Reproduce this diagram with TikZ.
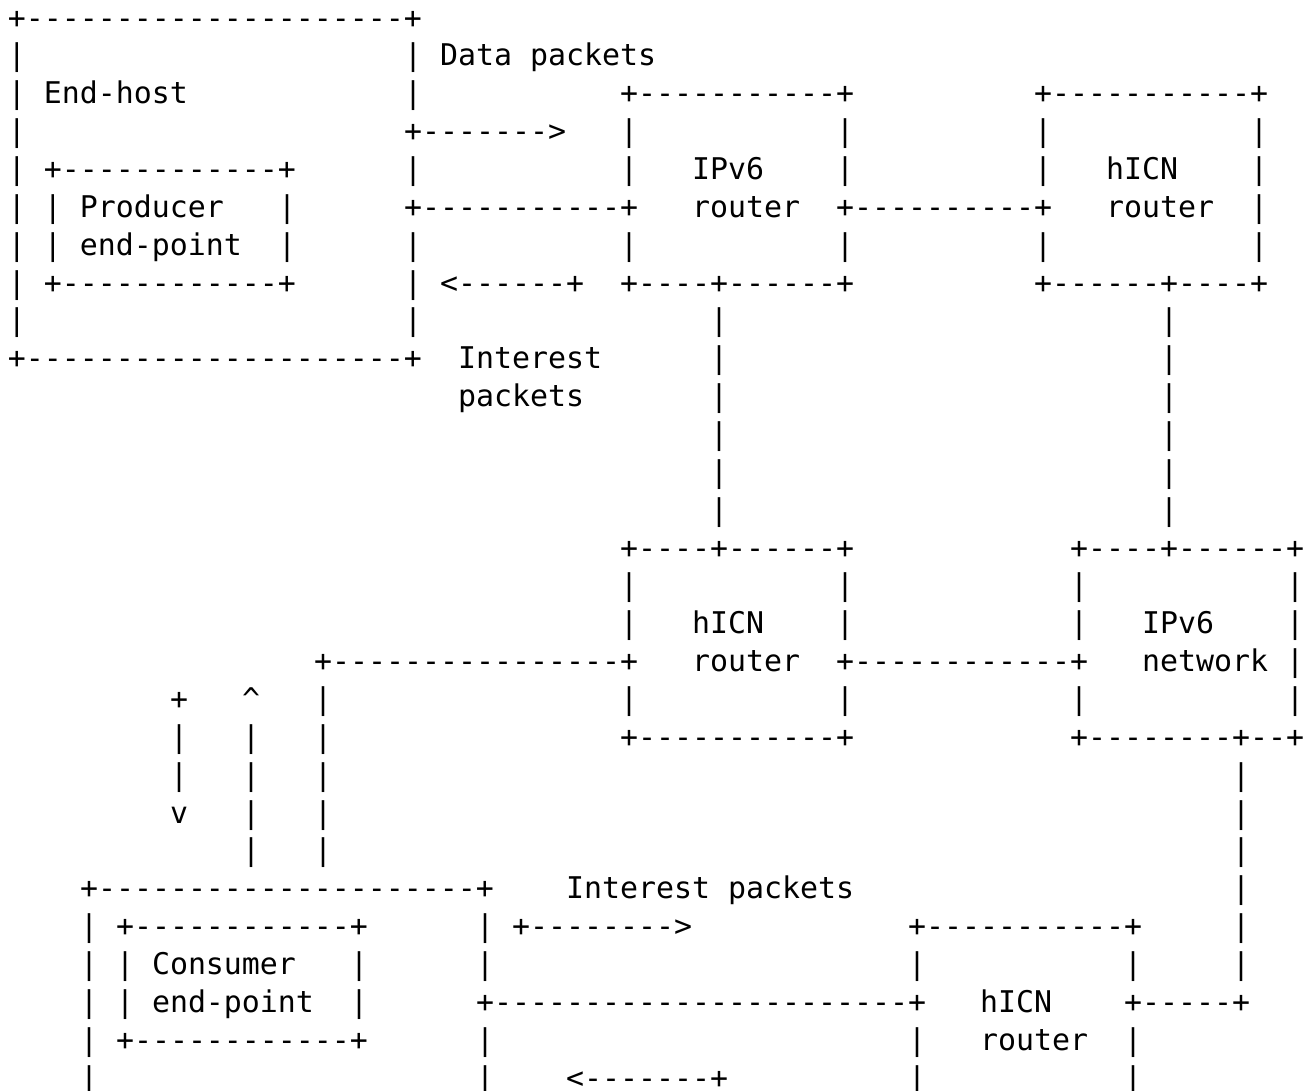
\documentclass[tikz,border=0pt]{standalone}
\usepackage{fontspec}
\setmonofont{DejaVu Sans Mono}
\tikzset{ascii/.style={anchor=base west, inner sep=0pt, outer sep=0pt,
  font=\ttfamily\fontsize{29.9pt}{37.86pt}\selectfont, text=black}}
\newcommand\asc[4]{\node[ascii] (#1) at ({8+18*(#3)},{-(28+37.86*(#2))}) {#4};}
\begin{document}
\begin{tikzpicture}[x=1pt,y=1pt]
\path[use as bounding box] (0,0) rectangle (1311,-1090);
\clip (0,0) rectangle (1311,-1090);
\fill[white] (0,0) rectangle (1311,-1090);
% row 0
\asc{r0a}{0}{0}{+---------------------+}
% row 1
\asc{r1a}{1}{0}{|}\asc{r1b}{1}{22}{| Data packets}
% row 2
\asc{r2a}{2}{0}{| End-host}\asc{r2b}{2}{22}{|}\asc{r2c}{2}{34}{+-----------+}\asc{r2d}{2}{57}{+-----------+}
% row 3
\asc{r3a}{3}{0}{|}\asc{r3b}{3}{22}{+------->}\asc{r3c}{3}{34}{|}\asc{r3d}{3}{46}{|}\asc{r3e}{3}{57}{|}\asc{r3f}{3}{69}{|}
% row 4
\asc{r4a}{4}{0}{| +------------+}\asc{r4b}{4}{22}{|}\asc{r4c}{4}{34}{|}\asc{r4d}{4}{38}{IPv6}\asc{r4e}{4}{46}{|}\asc{r4f}{4}{57}{|}\asc{r4g}{4}{61}{hICN}\asc{r4h}{4}{69}{|}
% row 5
\asc{r5a}{5}{0}{| | Producer}\asc{r5b}{5}{15}{|}\asc{r5c}{5}{22}{+-----------+}\asc{r5d}{5}{38}{router}\asc{r5e}{5}{46}{+----------+}\asc{r5f}{5}{61}{router}\asc{r5g}{5}{69}{|}
% row 6
\asc{r6a}{6}{0}{| | end-point}\asc{r6b}{6}{15}{|}\asc{r6c}{6}{22}{|}\asc{r6d}{6}{34}{|}\asc{r6e}{6}{46}{|}\asc{r6f}{6}{57}{|}\asc{r6g}{6}{69}{|}
% row 7
\asc{r7a}{7}{0}{| +------------+}\asc{r7b}{7}{22}{| <------+}\asc{r7c}{7}{34}{+----+------+}\asc{r7d}{7}{57}{+------+----+}
% row 8
\asc{r8a}{8}{0}{|}\asc{r8b}{8}{22}{|}\asc{r8c}{8}{39}{|}\asc{r8d}{8}{64}{|}
% row 9
\asc{r9a}{9}{0}{+---------------------+}\asc{r9b}{9}{25}{Interest}\asc{r9c}{9}{39}{|}\asc{r9d}{9}{64}{|}
% row 10
\asc{r10a}{10}{25}{packets}\asc{r10b}{10}{39}{|}\asc{r10c}{10}{64}{|}
% rows 11-13
\asc{r11a}{11}{39}{|}\asc{r11b}{11}{64}{|}
\asc{r12a}{12}{39}{|}\asc{r12b}{12}{64}{|}
\asc{r13a}{13}{39}{|}\asc{r13b}{13}{64}{|}
% row 14
\asc{r14a}{14}{34}{+----+------+}\asc{r14b}{14}{59}{+----+------+}
% row 15
\asc{r15a}{15}{34}{|}\asc{r15b}{15}{46}{|}\asc{r15c}{15}{59}{|}\asc{r15d}{15}{71}{|}
% row 16
\asc{r16a}{16}{34}{|}\asc{r16b}{16}{38}{hICN}\asc{r16c}{16}{46}{|}\asc{r16d}{16}{59}{|}\asc{r16e}{16}{63}{IPv6}\asc{r16f}{16}{71}{|}
% row 17
\asc{r17a}{17}{17}{+----------------+}\asc{r17b}{17}{38}{router}\asc{r17c}{17}{46}{+------------+}\asc{r17d}{17}{63}{network}\asc{r17e}{17}{71}{|}
% row 18
\asc{r18a}{18}{9}{+}\asc{r18b}{18}{13}{\textasciicircum}\asc{r18c}{18}{17}{|}\asc{r18d}{18}{34}{|}\asc{r18e}{18}{46}{|}\asc{r18f}{18}{59}{|}\asc{r18g}{18}{71}{|}
% row 19
\asc{r19a}{19}{9}{|}\asc{r19b}{19}{13}{|}\asc{r19c}{19}{17}{|}\asc{r19d}{19}{34}{+-----------+}\asc{r19e}{19}{59}{+--------+--+}
% row 20
\asc{r20a}{20}{9}{|}\asc{r20b}{20}{13}{|}\asc{r20c}{20}{17}{|}\asc{r20d}{20}{68}{|}
% row 21
\asc{r21a}{21}{9}{v}\asc{r21b}{21}{13}{|}\asc{r21c}{21}{17}{|}\asc{r21d}{21}{68}{|}
% row 22
\asc{r22a}{22}{13}{|}\asc{r22b}{22}{17}{|}\asc{r22c}{22}{68}{|}
% row 23
\asc{r23a}{23}{4}{+---------------------+}\asc{r23b}{23}{31}{Interest packets}\asc{r23c}{23}{68}{|}
% row 24
\asc{r24a}{24}{4}{| +------------+}\asc{r24b}{24}{26}{| +-------->}\asc{r24c}{24}{50}{+-----------+}\asc{r24d}{24}{68}{|}
% row 25
\asc{r25a}{25}{4}{| | Consumer}\asc{r25b}{25}{19}{|}\asc{r25c}{25}{26}{|}\asc{r25d}{25}{50}{|}\asc{r25e}{25}{62}{|}\asc{r25f}{25}{68}{|}
% row 26
\asc{r26a}{26}{4}{| | end-point}\asc{r26b}{26}{19}{|}\asc{r26c}{26}{26}{+-----------------------+}\asc{r26d}{26}{54}{hICN}\asc{r26e}{26}{62}{+-----+}
% row 27
\asc{r27a}{27}{4}{| +------------+}\asc{r27b}{27}{26}{|}\asc{r27c}{27}{50}{|}\asc{r27d}{27}{54}{router}\asc{r27e}{27}{62}{|}
% row 28
\asc{r28a}{28}{4}{|}\asc{r28b}{28}{26}{|}\asc{r28c}{28}{31}{<-------+}\asc{r28d}{28}{50}{|}\asc{r28e}{28}{62}{|}
\end{tikzpicture}
\end{document}
